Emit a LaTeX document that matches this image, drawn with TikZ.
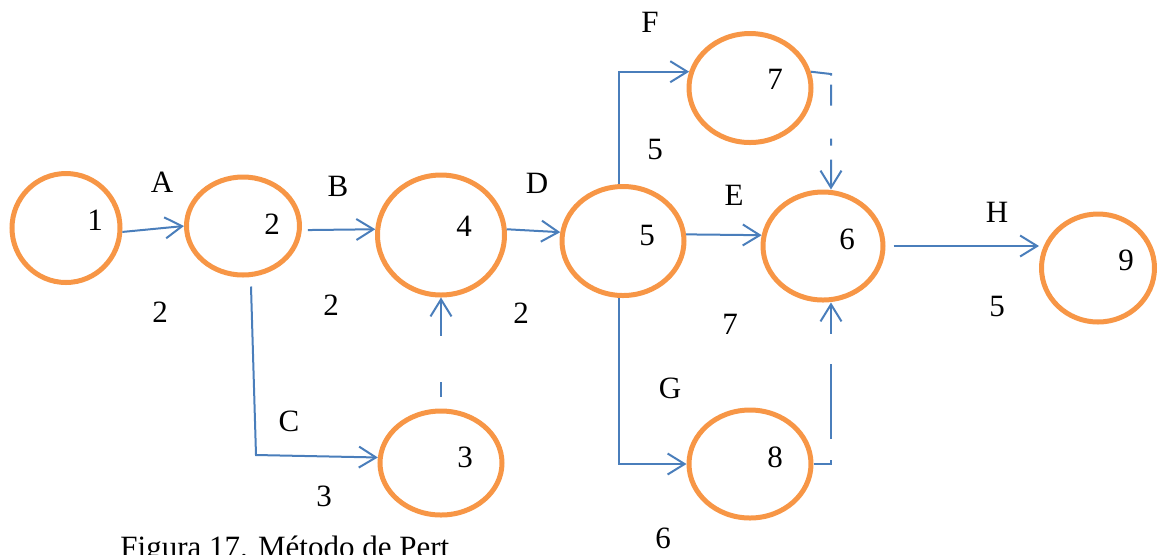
\documentclass[tikz,border=0pt]{standalone}
\usepackage{fontspec}
\setmainfont{Liberation Serif}
\usetikzlibrary{arrows.meta,shapes.geometric}
\definecolor{pertorange}{HTML}{F79646}
\definecolor{pertblue}{HTML}{4A7EBB}
\begin{document}
\begin{tikzpicture}[x=0.5pt,y=-0.5pt,
  event/.style={ellipse, draw=pertorange, line width=2.5pt, inner sep=0pt},
  lbl/.style={font=\fontsize{15.5pt}{18pt}\selectfont, inner sep=0pt},
  act/.style={draw=pertblue, line width=1pt, -{Straight Barb[length=8.5pt,width=10.5pt]}},
]
\clip (0,0) rectangle (1158,554);

% events
\node[event, minimum width=54pt,   minimum height=54.5pt] (n1) at (66,228)  {};
\node[event, minimum width=56.5pt, minimum height=49pt]   (n2) at (243,226) {};
\node[event, minimum width=63.5pt, minimum height=60pt]   (n4) at (441,235) {};
\node[event, minimum width=61pt,   minimum height=54.5pt] (n5) at (623,241) {};
\node[event, minimum width=61pt,   minimum height=54.5pt] (n7) at (750,88)  {};
\node[event, minimum width=60pt,   minimum height=54pt]   (n6) at (823,246) {};
\node[event, minimum width=56.5pt, minimum height=54pt]   (n9) at (1098,268) {};
\node[event, minimum width=61pt,   minimum height=52pt]   (n3) at (441,463) {};
\node[event, minimum width=61pt,   minimum height=54pt]   (n8) at (750,464) {};

% event numbers
\node[lbl] (t1) at (95,220)   {1};
\node[lbl] (t2) at (272,224)  {2};
\node[lbl] (t4) at (464,226)  {4};
\node[lbl] (t5) at (647,235)  {5};
\node[lbl] (t7) at (775,79)   {7};
\node[lbl] (t6) at (847,239)  {6};
\node[lbl] (t9) at (1126,260) {9};
\node[lbl] (t3) at (465,457)  {3};
\node[lbl] (t8) at (775,457)  {8};

% bend points
\coordinate (cC)  at (256,455);
\coordinate (c76) at (831,74);
\coordinate (c86) at (831,464);

% activities
\draw[act] (n1.-4) -- (n2.west);
\draw[act, shorten <=3pt] (n2.-4) -- (n4.175);
\draw[act] (n4.5) -- (n5.172);
\draw[act] (n5.6) -- (n6.170);
\draw[act, shorten <=4pt] (n6.east) -- (n6.east -| n9.west);
\draw[act] ([shift={(8,9)}]n2.south) -- (cC) -- (n3.175);
\draw[act] ([shift={(-4,0)}]n5.north) |- (n7.165);
\draw[act] ([shift={(-4,0)}]n5.south) |- (n8.west);

% dummy activities
\draw[act, shorten <=6pt, dash pattern=on 7.5pt off 23pt on 30pt] (n3.north) -- (n4.south);
\draw[act, dash pattern=on 11pt off 4.5pt on 10.5pt off 16.5pt on 3.5pt off 7pt on 30pt]
  (n7.15) -- (c76) -- (c76 |- n6.north);
\draw[act, dash pattern=on 11pt off 10.5pt on 37.5pt off 15pt on 30pt]
  (n8.east) -- (c86) -- (c86 |- n6.south);

% activity names and durations
\node[lbl] (la) at (162,182) {A};
\node[lbl] (da) at (160,312) {2};
\node[lbl] (lb) at (338,186) {B};
\node[lbl] (db) at (331,305) {2};
\node[lbl] (ld) at (537,183) {D};
\node[lbl] (dd) at (521,313) {2};
\node[lbl] (lf) at (650,22)  {F};
\node[lbl] (df) at (655,149) {5};
\node[lbl] (le) at (734,195) {E};
\node[lbl] (de) at (730,324) {7};
\node[lbl] (lg) at (670,388) {G};
\node[lbl] (dg) at (663,538) {6};
\node[lbl] (lh) at (997,212) {H};
\node[lbl] (dh) at (997,306) {5};
\node[lbl] (lc) at (289,421) {C};
\node[lbl] (dc) at (324,496) {3};

% caption
\node[lbl, anchor=base west] (cap) at (120,557) {Figura 17. Método de Pert};
\end{tikzpicture}
\end{document}
